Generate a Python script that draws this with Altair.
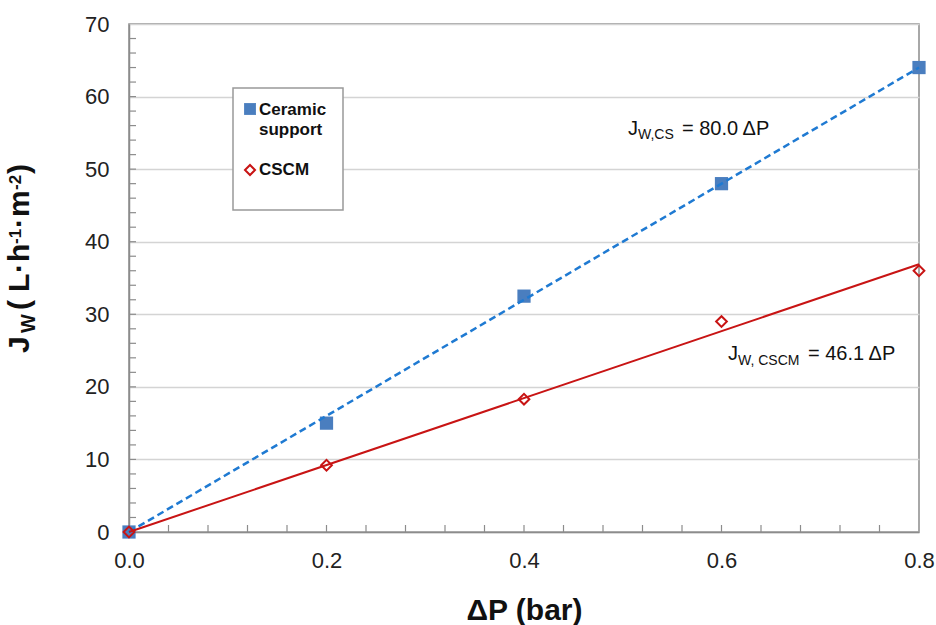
import altair as alt
import pandas as pd

# ---- data ----
dp = [0.0, 0.2, 0.4, 0.6, 0.8]
jw_ceramic = [0.0, 15.0, 32.5, 48.0, 64.0]
jw_cscm = [0.0, 9.2, 18.3, 29.0, 36.0]

fit_dp = [0.0, 0.8]
fit_ceramic = [0.0, 64.0]   # J = 80.0 dP
fit_cscm = [0.0, 36.9]      # J = 46.1 dP

x_ticks = [0.0, 0.2, 0.4, 0.6, 0.8]
y_ticks = [0, 10, 20, 30, 40, 50, 60, 70]
x_minor = [0.04, 0.08, 0.12, 0.16, 0.2, 0.24, 0.28, 0.32, 0.36, 0.4, 0.44, 0.48,
           0.52, 0.56, 0.6, 0.64, 0.68, 0.72, 0.76]
y_minor = [2, 4, 6, 8, 10, 12, 14, 16, 18, 20, 22, 24, 26, 28, 30, 32, 34, 36, 38,
           40, 42, 44, 46, 48, 50, 52, 54, 56, 58, 60, 62, 64, 66, 68]

FONT = "Liberation Sans"
W, H = 790, 508
BLUE_PT = "#4a7ebf"
BLUE_LN = "#1f7ad2"
RED = "#c81414"
GRAY = "#8c8c8c"

pts = pd.DataFrame({"dp": dp, "ceramic": jw_ceramic, "cscm": jw_cscm})
fit = pd.DataFrame({"dp": fit_dp, "ceramic": fit_ceramic, "cscm": fit_cscm})

xs = alt.Scale(domain=[0, 0.8], nice=False, zero=False)
ys = alt.Scale(domain=[0, 70], nice=False)

x_enc = alt.X("dp:Q", scale=xs,
              axis=alt.Axis(values=x_ticks, format=".1f", title="ΔP (bar)", grid=False,
                            ticks=False, labelPadding=18, titlePadding=24,
                            labelFlush=False, labelOverlap=False))
y_enc_axis = alt.Axis(values=y_ticks, title=None, grid=True, ticks=False, labelPadding=20,
                      labelFlush=False, labelOverlap=False)

base_pts = alt.Chart(pts)
base_fit = alt.Chart(fit)

sq = base_pts.mark_point(shape="square", filled=True, size=175, color=BLUE_PT, opacity=1).encode(
    x=x_enc, y=alt.Y("ceramic:Q", scale=ys, axis=y_enc_axis))
dash = base_fit.mark_line(color=BLUE_LN, strokeWidth=2.5, strokeDash=[7, 4]).encode(
    x=alt.X("dp:Q", scale=xs), y=alt.Y("ceramic:Q", scale=ys))
redline = base_fit.mark_line(color=RED, strokeWidth=2).encode(
    x=alt.X("dp:Q", scale=xs), y=alt.Y("cscm:Q", scale=ys))
dia = base_pts.mark_point(shape="diamond", filled=False, size=115, color=RED,
                          strokeWidth=2, opacity=1).encode(
    x=alt.X("dp:Q", scale=xs), y=alt.Y("cscm:Q", scale=ys))

# inward minor ticks
ytick_df = pd.DataFrame({"v": y_minor})
xtick_df = pd.DataFrame({"v": x_minor})
yt = alt.Chart(ytick_df).mark_rule(color=GRAY, strokeWidth=1.2).encode(
    y=alt.Y("v:Q", scale=ys), x=alt.value(0), x2=alt.value(7))
xt = alt.Chart(xtick_df).mark_rule(color=GRAY, strokeWidth=1.2).encode(
    x=alt.X("v:Q", scale=xs), y=alt.value(H), y2=alt.value(H - 7))


def txt(s, x, y, size, bold=False, angle=0, color="#111"):
    props = dict(text=s, font=FONT, fontSize=size, align="left", baseline="alphabetic",
                 color=color, fontWeight="bold" if bold else "normal")
    if angle:
        props["angle"] = angle
    return alt.Chart(pd.DataFrame({"a": [0]})).mark_text(**props).encode(
        x=alt.value(x), y=alt.value(y))


# offsets: plot origin is at (129, 24) on the page
OX, OY = 129, 24

# y-axis title pieces (rotated, reading upwards)
ytitle = [
    txt("J", 29 - OX, 353 - OY, 30, True, 270),
    txt("W", 35 - OX, 333 - OY, 20, True, 270),
    txt("(", 29 - OX, 310 - OY, 30, True, 270),
    txt("L", 29 - OX, 292 - OY, 30, True, 270),
    txt("·", 29 - OX, 273 - OY, 30, True, 270),
    txt("h", 29 - OX, 262 - OY, 30, True, 270),
    txt("-1", 21 - OX, 244 - OY, 17, True, 270),
    txt("·", 29 - OX, 228 - OY, 30, True, 270),
    txt("m", 29 - OX, 217 - OY, 30, True, 270),
    txt("-2", 21 - OX, 190 - OY, 17, True, 270),
    txt(")", 29 - OX, 174 - OY, 30, True, 270),
]

# equation annotations
ann = [
    txt("J", 628 - OX, 135 - OY, 20),
    txt("W,CS", 638 - OX, 139 - OY, 14),
    txt("= 80.0  ΔP", 682 - OX, 135 - OY, 20),
    txt("J", 728 - OX, 360 - OY, 20),
    txt("W, CSCM", 738 - OX, 365 - OY, 14),
    txt("= 46.1  ΔP", 808 - OX, 360 - OY, 20),
]

# legend box
one = pd.DataFrame({"a": [0]})
leg_box = alt.Chart(one).mark_rect(
    fill="white", stroke="#999999", strokeWidth=1.5).encode(
    x=alt.value(233 - OX), x2=alt.value(343 - OX), y=alt.value(88 - OY), y2=alt.value(210 - OY))
leg_sq = alt.Chart(one).mark_point(
    shape="square", filled=True, size=140, color=BLUE_PT, opacity=1).encode(
    x=alt.value(250 - OX), y=alt.value(109 - OY))
leg_dia = alt.Chart(one).mark_point(
    shape="diamond", filled=False, size=100, color=RED, strokeWidth=2, opacity=1).encode(
    x=alt.value(250 - OX), y=alt.value(170 - OY))
leg_txt = [
    txt("Ceramic", 259 - OX, 115 - OY, 17, True),
    txt("support", 259 - OX, 135 - OY, 17, True),
    txt("CSCM", 259 - OX, 175 - OY, 17, True),
]

chart = alt.layer(
    sq, yt, xt, dash, redline, dia, leg_box, leg_sq, leg_dia, *leg_txt, *ann, *ytitle
).properties(
    width=W, height=H,
    autosize="none",
    padding={"left": OX, "top": OY, "right": 936 - OX - W, "bottom": 625 - OY - H},
).configure_view(
    stroke=GRAY, strokeWidth=1.5
).configure_axis(
    labelFont=FONT, labelFontSize=22, labelColor="#222",
    titleFont=FONT, titleFontSize=30, titleFontWeight="bold", titleColor="#111",
    domainColor=GRAY, domainWidth=1.5, gridColor="#d4d4d4", gridWidth=1.5,
)

chart.save("out.html", embed_options={"renderer": "svg", "actions": False})
